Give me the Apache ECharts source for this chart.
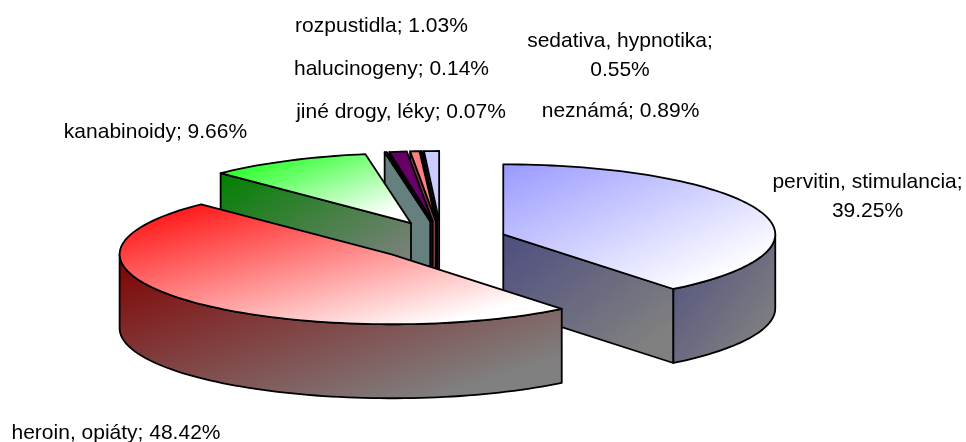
<!DOCTYPE html>
<html>
<head>
<meta charset="utf-8">
<style>
  html, body { margin: 0; padding: 0; background: #fff; }
  #main { width: 966px; height: 442px; }
</style>
<script src="https://cdn.jsdelivr.net/npm/echarts@6/dist/echarts.min.js"></script>
</head>
<body>
<div id="main"></div>
<script>
// data, clockwise from 12 o'clock
var names = ["pervitin, stimulancia", "heroin, opiáty", "kanabinoidy", "halucinogeny", "rozpustidla", "sedativa, hypnotika", "jiné drogy, léky", "neznámá"];
var shares = [39.25, 48.42, 9.66, 0.14, 1.03, 0.55, 0.07, 0.89];
var colors = ["#9999FF", "#FF0000", "#00FF00", "#CCFFFF", "#660066", "#FF8080", "#0066CC", "#CCCCFF"];

// pie layout
var cx = 441, cy = 241, rx = 272, ry = 70, depth = 74;
var explodeX = 66, explodeY = 20;

// only the three big slices are shaded, the slivers are flat
var shadedSlices = 3;

// label centres, same order as names
var labelX = [867.5, 116, 155.5, 391.5, 381.5, 620, 401, 620.5];
var labelY = [196.5, 433, 132, 69, 26, 55.5, 112, 111];
var labelBreak = [true, false, false, false, false, true, false, false];

// slice angles from the shares
var total = shares.reduce(function (a, b) { return a + b; }, 0);
var starts = [], ends = [], run = 0;
shares.forEach(function (s) {
  starts.push(run / total * Math.PI * 2);
  run += s;
  ends.push(run / total * Math.PI * 2);
});

function darken(hex) {
  var r = parseInt(hex.substr(1, 2), 16), g = parseInt(hex.substr(3, 2), 16), b = parseInt(hex.substr(5, 2), 16);
  return "rgb(" + Math.round(r / 2) + "," + Math.round(g / 2) + "," + Math.round(b / 2) + ")";
}

// corner to corner fill, isolines run along the other diagonal of the box
function grad(points, from, to) {
  var xs = points.map(function (p) { return p[0]; });
  var ys = points.map(function (p) { return p[1]; });
  var w = Math.max.apply(null, xs) - Math.min.apply(null, xs);
  var h = Math.max.apply(null, ys) - Math.min.apply(null, ys);
  var d = w * w + h * h;
  return new echarts.graphic.LinearGradient(0, 0, 2 * h * h / d, 2 * w * w / d, [
    { offset: 0, color: from },
    { offset: 0.85, color: to },
    { offset: 1, color: to }
  ]);
}

function arcPoints(ax, ay, a0, a1, dy) {
  var pts = [], n = Math.max(2, Math.ceil((a1 - a0) / 0.03));
  for (var i = 0; i <= n; i++) {
    var a = a0 + (a1 - a0) * i / n;
    pts.push([ax + rx * Math.sin(a), ay - ry * Math.cos(a) + dy]);
  }
  return pts;
}

function face(points, from, to) {
  return {
    type: "polygon",
    shape: { points: points },
    style: { fill: to ? grad(points, from, to) : from, stroke: "#000", lineWidth: 1.8, lineJoin: "round" }
  };
}

function renderSlice(params, api) {
  var i = api.value(0);
  var a0 = starts[i], a1 = ends[i], mid = (a0 + a1) / 2;
  var ax = cx + explodeX * Math.sin(mid);
  var ay = cy - explodeY * Math.cos(mid);
  var dark = darken(colors[i]);
  var shaded = i < shadedSlices;
  var sideEnd = shaded ? "#808080" : null;
  var kids = [];

  // radial walls, only the ones that face the viewer
  if (Math.sin(a0) < 0) {
    var p0 = arcPoints(ax, ay, a0, a0, 0)[0];
    kids.push(face([[ax, ay], p0, [p0[0], p0[1] + depth], [ax, ay + depth]], dark, sideEnd));
  }
  if (Math.sin(a1) > 1e-6) {
    var p1 = arcPoints(ax, ay, a1, a1, 0)[0];
    kids.push(face([[ax, ay], p1, [p1[0], p1[1] + depth], [ax, ay + depth]], dark, sideEnd));
  }
  // outer wall, front half of the ellipse only
  var f0 = Math.max(a0, Math.PI / 2), f1 = Math.min(a1, Math.PI * 1.5);
  if (f1 > f0) {
    kids.push(face(arcPoints(ax, ay, f0, f1, 0).concat(arcPoints(ax, ay, f0, f1, depth).reverse()), dark, sideEnd));
  }
  // top
  kids.push(face([[ax, ay]].concat(arcPoints(ax, ay, a0, a1, 0)), colors[i], shaded ? "#FFFFFF" : null));

  return { type: "group", children: kids };
}

// back to front
var drawOrder = [7, 6, 5, 4, 3, 2, 0, 1];

var texts = names.map(function (name, i) {
  return {
    type: "text",
    x: labelX[i],
    y: labelY[i],
    style: {
      text: name + ";" + (labelBreak[i] ? "\n" : " ") + shares[i].toFixed(2) + "%",
      fill: "#000",
      font: '21px "Liberation Sans", Arial, sans-serif',
      lineHeight: 29,
      align: "center",
      verticalAlign: "middle"
    }
  };
});

var chart = echarts.init(document.getElementById("main"), null, { renderer: "canvas" });
chart.setOption({
  animation: false,
  backgroundColor: "#fff",
  graphic: { elements: texts },
  series: [{
    type: "custom",
    coordinateSystem: "none",
    renderItem: renderSlice,
    data: drawOrder.map(function (i) { return [i, shares[i]]; })
  }]
});
</script>
</body>
</html>
